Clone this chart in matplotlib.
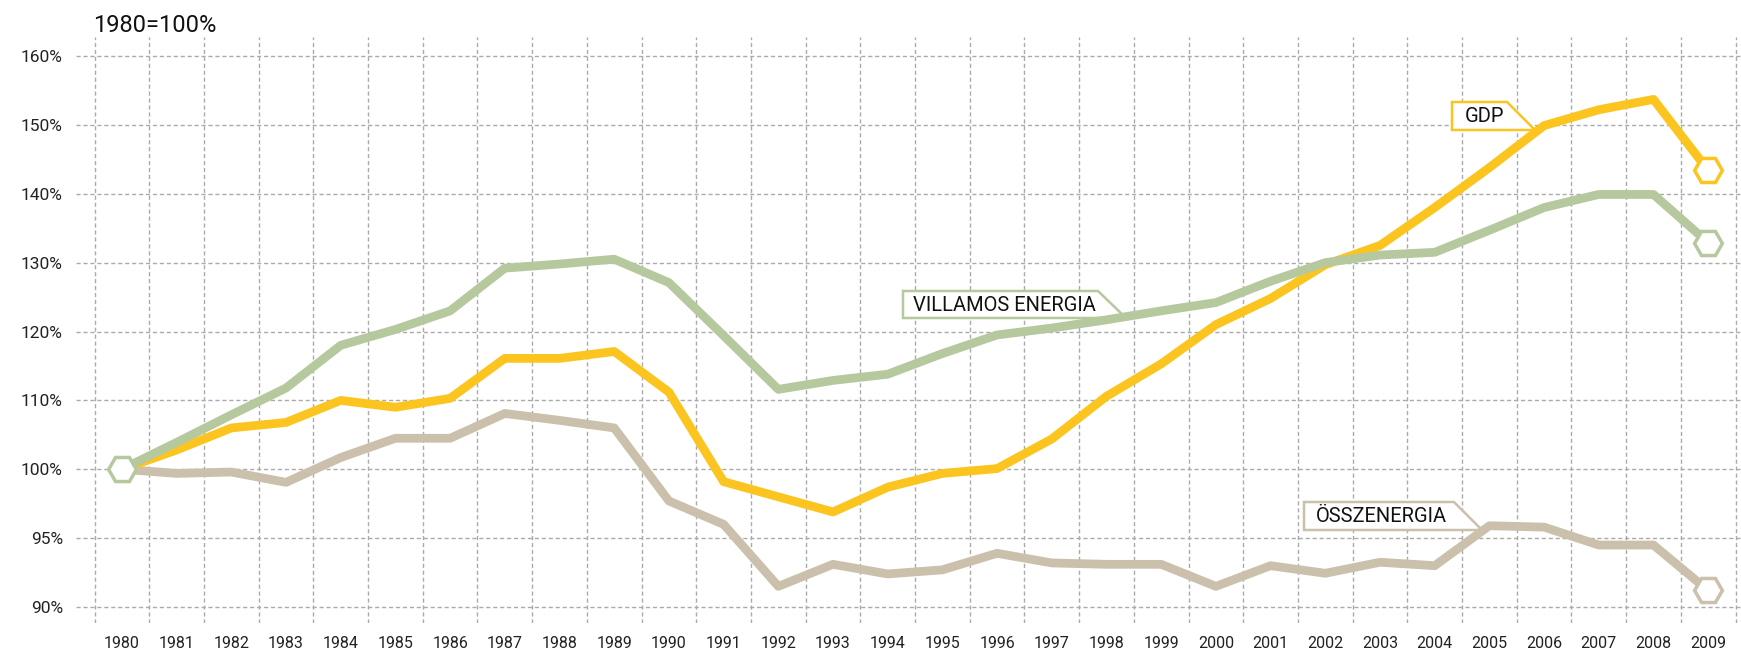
import numpy as np
import matplotlib
matplotlib.use("Agg")
import matplotlib.pyplot as plt
from matplotlib.patches import Polygon

# Data (1980 = 100%)
years = list(range(1980, 2010))
gdp = [100.0, 102.8, 106.0, 106.8, 110.0, 109.0, 110.3, 116.1, 116.1, 117.1,
       111.2, 99.1, 98.0, 96.9, 98.7, 99.7, 100.1, 104.4, 110.6, 115.3,
       121.0, 124.8, 129.7, 132.5, 138.0, 143.8, 149.9, 152.2, 153.7, 143.4]
villamos = [100.0, 103.9, 107.9, 111.8, 118.0, 120.3, 123.0, 129.2, 129.8, 130.5,
            127.1, 119.4, 111.6, 112.9, 113.8, 116.8, 119.5, 120.5, 121.7, 123.0,
            124.2, 127.3, 130.0, 131.1, 131.5, 134.7, 138.0, 139.9, 139.9, 132.9]
osszenergia = [100.0, 99.7, 99.8, 99.05, 101.7, 104.5, 104.5, 108.1, 107.1, 106.0,
               97.7, 96.0, 91.5, 93.1, 92.4, 92.7, 93.9, 93.2, 93.1, 93.1,
               91.5, 93.0, 92.45, 93.25, 93.0, 95.9, 95.8, 94.5, 94.5, 91.2]
ytick_vals = [90, 95, 100, 110, 120, 130, 140, 150, 160]

C_GDP = '#FCC41E'
C_VIL = '#B6C89D'
C_OSS = '#CBC0AC'
GRID = '#ABABAB'

plt.rcParams['font.family'] = ['Roboto', 'DejaVu Sans']


# piecewise axis: 5% steps below 100, 10% steps above
def fwd(v):
    v = np.asarray(v, dtype=float)
    return np.where(v >= 100, (v - 100) / 10.0, (v - 100) / 5.0)


def inv(g):
    g = np.asarray(g, dtype=float)
    return np.where(g >= 0, 100 + g * 10.0, 100 + g * 5.0)


W, H = 1741, 652
fig = plt.figure(figsize=(W / 100, H / 100), dpi=100)
ax = fig.add_axes([76 / W, (H - 623) / H, (W - 76) / W, 586 / H])
ax.set_yscale('function', functions=(fwd, inv))
ax.set_ylim(88.84, 162.76)
ax.set_xlim(1979.16, 2009.6)

for s in ax.spines.values():
    s.set_visible(False)

ax.set_yticks(ytick_vals)
ax.set_yticklabels([f"{v}%" for v in ytick_vals])
ax.set_xticks(years)
ax.set_xticklabels([str(y) for y in years])
ax.tick_params(axis='y', length=0, pad=9.5, labelsize=12.5, labelcolor='#222222')
ax.tick_params(axis='x', length=0, pad=9, labelsize=11.5, labelcolor='#222222')
ax.yaxis.grid(True, color=GRID, lw=1.0, ls=(0, (3, 2)))
for y in years:
    ax.axvline(y - 0.5, color=GRID, lw=1.0, ls=(0, (3, 2)), zorder=0.5)
ax.axvline(2009.5, color=GRID, lw=1.0, ls=(0, (3, 2)), zorder=0.5)
ax.set_axisbelow(True)

lw = 6.3
ax.plot(years, osszenergia, color=C_OSS, lw=lw, zorder=3)
ax.plot(years, gdp, color=C_GDP, lw=lw, zorder=4)
ax.plot(years, villamos, color=C_VIL, lw=lw, zorder=5)

mk = dict(marker='H', ms=20, mfc='white', mew=2.5, ls='none', zorder=6)
ax.plot([years[-1]], [osszenergia[-1]], mec=C_OSS, **mk)
ax.plot([years[-1]], [gdp[-1]], mec=C_GDP, **mk)
ax.plot([years[-1]], [villamos[-1]], mec=C_VIL, **mk)
ax.plot([years[0]], [villamos[0]], mec=C_VIL, **mk)


# label tags (pixel layout -> axes fraction)
def px(x, y):
    return ((x - 76) / 1665, (623 - y) / 586)


def tag(x0, x1, x2, y0, y1, text, tx, color):
    pts = [px(x0, y0), px(x1, y0), px(x2, y1), px(x0, y1)]
    ax.add_patch(Polygon(pts, closed=True, transform=ax.transAxes, fc='white',
                         ec=color, lw=1.8, zorder=2.5))
    ax.text(*px(tx, (y0 + y1) / 2 + 1), text, transform=ax.transAxes, ha='left',
            va='center', fontsize=14.5, color='#111111', zorder=2.6)


tag(1452, 1507, 1535, 102, 130, 'GDP', 1465, C_GDP)
tag(903, 1098, 1126, 291, 318, 'VILLAMOS ENERGIA', 913, C_VIL)
tag(1304, 1454, 1482, 502, 530, 'ÖSSZENERGIA', 1316, C_OSS)

fig.text(93 / W, 1 - 32 / H, '1980=100%', fontsize=17, color='#111111',
         ha='left', va='baseline')

fig.savefig('out.png', dpi=100)
